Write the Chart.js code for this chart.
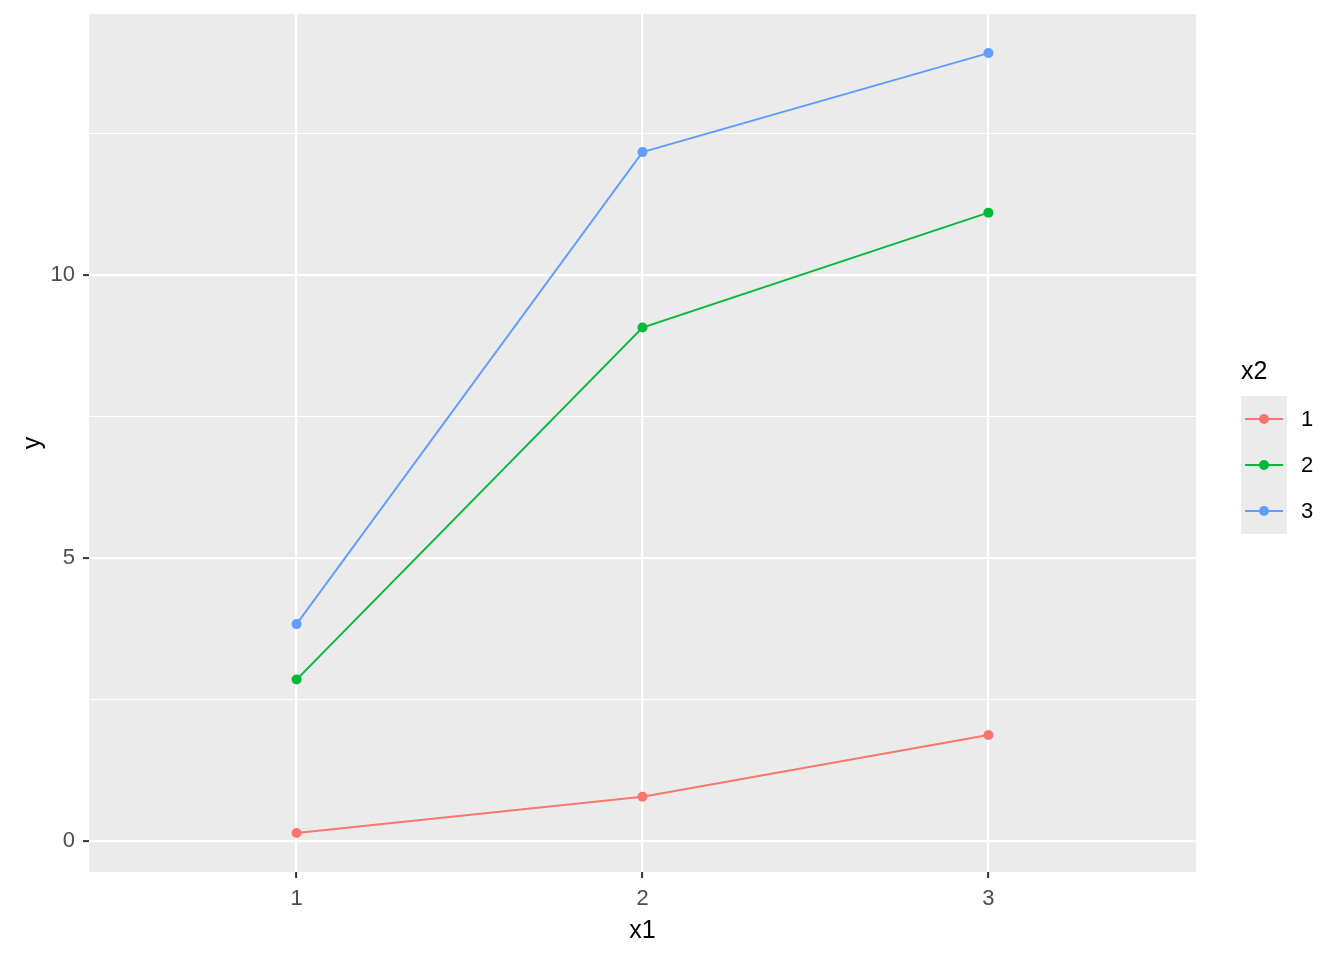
<!DOCTYPE html>
<html>
<head>
<meta charset="utf-8">
<script src="https://cdn.jsdelivr.net/npm/chart.js@4.4.1/dist/chart.umd.min.js"></script>
<style>
  html, body { margin: 0; padding: 0; background: #fff; }
  #wrap { width: 1344px; height: 960px; }
</style>
</head>
<body>
<div id="wrap"><canvas id="plot"></canvas></div>
<script>
// x1 categories, one series per x2 level
var categories = ['1', '2', '3'];
var groups = ['1', '2', '3'];
var series1 = [0.14, 0.78, 1.87];
var series2 = [2.85, 9.07, 11.10];
var series3 = [3.83, 12.17, 13.92];
var yTicks = [0, 2.5, 5, 7.5, 10, 12.5];

var colors = ['#F8766D', '#00BA38', '#619CFF'];
var allSeries = [series1, series2, series3];

function toPoints(arr) {
	return arr.map(function(v, i) { return {x: i + 1, y: v}; });
}

var datasets = allSeries.map(function(s, k) {
	return {
		label: groups[k],
		data: toPoints(s),
		borderColor: colors[k],
		backgroundColor: colors[k],
		borderWidth: 1.9,
		pointRadius: 5,
		pointBorderWidth: 0,
		pointHoverRadius: 5,
		fill: false,
		tension: 0
	};
});

var panelBg = {
	id: 'panelBg',
	beforeDraw: function(chart) {
		var a = chart.chartArea, c = chart.ctx;
		c.save();
		c.fillStyle = '#EBEBEB';
		c.fillRect(a.left, a.top, a.right - a.left, a.bottom - a.top);
		c.restore();
	}
};

// ggplot-style legend on the right
var sideLegend = {
	id: 'sideLegend',
	afterDraw: function(chart) {
		var c = chart.ctx;
		var x0 = 1241, y0 = 396, kw = 46, kh = 46;
		c.save();
		c.fillStyle = '#000';
		c.font = '25px "Liberation Sans", Arial, sans-serif';
		c.textBaseline = 'alphabetic';
		c.textAlign = 'left';
		c.fillText('x2', 1241, 379);
		var ds = chart.data.datasets;
		c.fillStyle = '#EBEBEB';
		c.fillRect(x0, y0, kw, kh * ds.length);
		ds.forEach(function(d, i) {
			var cy = y0 + kh * i + kh / 2;
			c.strokeStyle = d.borderColor;
			c.lineWidth = 2;
			c.beginPath();
			c.moveTo(x0 + 4, cy);
			c.lineTo(x0 + kw - 4, cy);
			c.stroke();
			c.fillStyle = d.backgroundColor;
			c.beginPath();
			c.arc(x0 + kw / 2, cy, 5, 0, Math.PI * 2);
			c.fill();
			c.fillStyle = '#000';
			c.font = '22px "Liberation Sans", Arial, sans-serif';
			c.textBaseline = 'middle';
			c.fillText(d.label, 1301, cy + 1);
			c.fillStyle = '#EBEBEB';
		});
		c.restore();
	}
};

var tickFont = {family: '"Liberation Sans", Arial, sans-serif', size: 22};
var titleFont = {family: '"Liberation Sans", Arial, sans-serif', size: 25};

new Chart(document.getElementById('plot'), {
	type: 'line',
	data: {datasets: datasets},
	plugins: [panelBg, sideLegend],
	options: {
		responsive: true,
		maintainAspectRatio: false,
		animation: false,
		layout: {padding: {top: 14, right: 148, left: 0, bottom: 0}},
		plugins: {legend: {display: false}, tooltip: {enabled: false}},
		scales: {
			x: {
				type: 'linear',
				min: 0.4,
				max: 3.6,
				afterBuildTicks: function(scale) {
					scale.ticks = categories.map(function(c, i) { return {value: i + 1}; });
				},
				afterFit: function(scale) {
					scale.height = 88;
					scale.paddingLeft = 0;
					scale.paddingRight = 0;
				},
				ticks: {
					font: tickFont,
					color: '#4D4D4D',
					padding: 8,
					maxRotation: 0,
					callback: function(v) { return categories[Math.round(v) - 1]; }
				},
				grid: {
					color: '#FFFFFF',
					lineWidth: 2.2,
					tickLength: 6,
					tickColor: '#333333',
					tickWidth: 2
				},
				border: {display: false},
				title: {display: true, text: 'x1', color: '#000', font: titleFont, padding: {top: 0, bottom: 14}}
			},
			y: {
				type: 'linear',
				min: -0.55,
				max: 14.61,
				afterBuildTicks: function(scale) {
					scale.ticks = yTicks.map(function(v) { return {value: v}; });
				},
				afterFit: function(scale) {
					scale.width = 89;
					scale.paddingTop = 0;
					scale.paddingBottom = 0;
				},
				ticks: {
					font: tickFont,
					color: '#4D4D4D',
					padding: 8,
					callback: function(v) { return v % 5 === 0 ? String(v) : ''; }
				},
				grid: {
					color: '#FFFFFF',
					lineWidth: function(ctx) { return ctx.tick && ctx.tick.value % 5 === 0 ? 2.2 : 1.1; },
					tickLength: 6,
					tickColor: function(ctx) { return ctx.tick && ctx.tick.value % 5 === 0 ? '#333333' : 'rgba(0,0,0,0)'; },
					tickWidth: 2
				},
				border: {display: false},
				title: {display: true, text: 'y', color: '#000', font: titleFont, padding: {top: 18, bottom: 0}}
			}
		}
	}
});
</script>
</body>
</html>
